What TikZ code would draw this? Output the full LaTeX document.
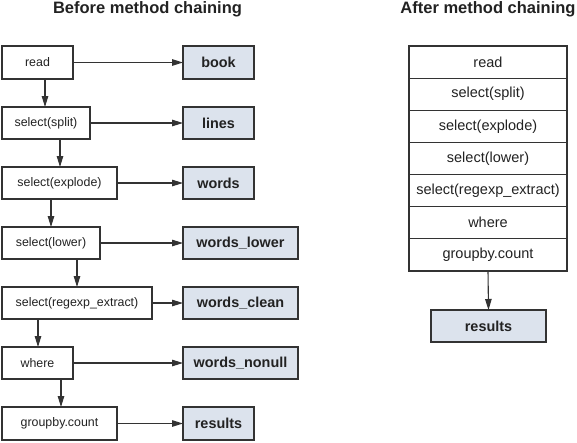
\documentclass[tikz,border=0pt]{standalone}
\usepackage{fontspec}
\setmainfont{Liberation Sans}
\usetikzlibrary{arrows.meta}
\definecolor{bordc}{HTML}{333333}
\definecolor{txtc}{HTML}{222222}
\definecolor{bluef}{HTML}{DCE3ED}
\tikzset{
  base/.style={draw=bordc, line width=1.2pt, text=txtc, inner sep=0pt, outer sep=0pt, anchor=north west, align=center},
  opbox/.style={base, fill=white, font=\fontsize{12.4}{14}\selectfont},
  resbox/.style={base, fill=bluef, font=\fontsize{14.4}{16}\selectfont\bfseries},
  stackbox/.style={draw=bordc, line width=1.2pt, text=txtc, inner sep=0pt, outer sep=0pt, anchor=north, fill=white,
    minimum width=158pt, minimum height=32.14pt, font=\fontsize{14.5}{16}\selectfont},
  arr/.style={draw=bordc, line width=1.1pt, -{Triangle[length=11pt,width=6.5pt]}},
  ttl/.style={font=\fontsize{16.5}{18}\selectfont\bfseries, text=txtc, inner sep=0pt}
}
\begin{document}
\begin{tikzpicture}[x=1pt,y=-1pt]
\useasboundingbox (0,0) rectangle (577,442);
% titles
\node[ttl] (t1) at (147.5,9) {Before method chaining};
\node[ttl] (t2) at (488,9) {After method chaining};
% left operations
\node[opbox, minimum width=71pt, minimum height=33pt] (read) at (2,46) {read};
\node[opbox, minimum width=88pt, minimum height=32pt] (split) at (2,107) {select(split)};
\node[opbox, minimum width=115pt, minimum height=32pt] (explode) at (2,167) {select(explode)};
\node[opbox, minimum width=98pt, minimum height=32pt] (lower) at (2,227) {select(lower)};
\node[opbox, minimum width=150pt, minimum height=32pt] (regexp) at (2,287) {select(regexp\_extract)};
\node[opbox, minimum width=71pt, minimum height=32pt] (where) at (2,347) {where};
\node[opbox, minimum width=115pt, minimum height=33pt] (groupby) at (2,407) {groupby.count};
% left results
\node[resbox, minimum width=71pt, minimum height=33pt] (book) at (183,46) {book};
\node[resbox, minimum width=71pt, minimum height=32pt] (lines) at (183,107) {lines};
\node[resbox, minimum width=71pt, minimum height=32pt] (words) at (183,167) {words};
\node[resbox, minimum width=115pt, minimum height=32pt] (wlower) at (183,227) {words\_lower};
\node[resbox, minimum width=115pt, minimum height=32pt] (wclean) at (183,287) {words\_clean};
\node[resbox, minimum width=115pt, minimum height=32pt] (wnonull) at (183,347) {words\_nonull};
\node[resbox, minimum width=71pt, minimum height=33pt] (results) at (183,407) {results};
% horizontal arrows
\draw[arr] (read.east) -- (book.west);
\draw[arr] (split.east) -- (lines.west);
\draw[arr] (explode.east) -- (words.west);
\draw[arr] (lower.east) -- (wlower.west);
\draw[arr] (regexp.east) -- (wclean.west);
\draw[arr] (where.east) -- (wnonull.west);
\draw[arr] (groupby.east) -- (results.west);
% vertical arrows
\draw[arr] ([xshift=43pt]read.south west) -- ([xshift=43pt]split.north west);
\draw[arr] ([xshift=58pt]split.south west) -- ([xshift=58pt]explode.north west);
\draw[arr] ([xshift=49pt]explode.south west) -- ([xshift=49pt]lower.north west);
\draw[arr] ([xshift=75pt]lower.south west) -- ([xshift=75pt]regexp.north west);
\draw[arr] ([xshift=36pt]regexp.south west) -- ([xshift=36pt]where.north west);
\draw[arr] ([xshift=59pt]where.south west) -- ([xshift=59pt]groupby.north west);
% right stack
\node[stackbox] (s1) at (488,46) {read};
\node[stackbox] (s2) at (s1.south) {select(split)};
\node[stackbox] (s3) at (s2.south) {select(explode)};
\node[stackbox] (s4) at (s3.south) {select(lower)};
\node[stackbox] (s5) at (s4.south) {select(regexp\_extract)};
\node[stackbox] (s6) at (s5.south) {where};
\node[stackbox] (s7) at (s6.south) {groupby.count};
\node[resbox, anchor=north, minimum width=115pt, minimum height=32pt] (rres) at (488.5,310) {results};
\draw[arr] (s7.south) -- (rres.north);
\end{tikzpicture}
\end{document}
